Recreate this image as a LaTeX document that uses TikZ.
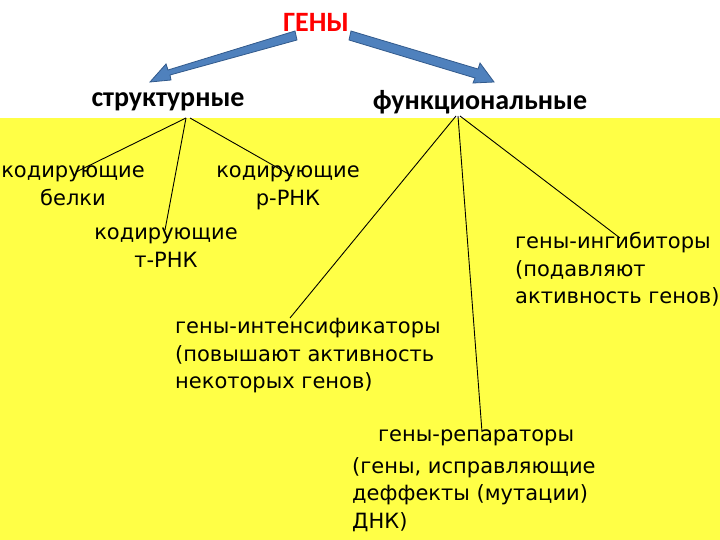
\documentclass[tikz,border=0pt]{standalone}
\usepackage{fontspec}
\setmainfont{Carlito}
\newfontfamily\txtf{DejaVu Sans}
\definecolor{bgy}{RGB}{255,255,70}
\definecolor{arb}{RGB}{79,129,189}
\definecolor{arbd}{RGB}{50,90,140}
\begin{document}
\begin{tikzpicture}[x=1pt,y=-1pt,
  hdr/.style={font=\bfseries\fontsize{28}{32}\selectfont},
  txt/.style={font=\txtf\fontsize{21}{27.5}\selectfont,align=left,anchor=north west,inner sep=0},
  ctxt/.style={font=\txtf\fontsize{21}{27.5}\selectfont,align=center,anchor=north,inner sep=0},
  ln/.style={black,line width=0.9pt},
  bigarrow/.style={draw=arbd,fill=arb,line width=0.8pt}]
\useasboundingbox (0,0) rectangle (720,540);
\fill[white] (0,0) rectangle (720,118);
\fill[bgy] (0,118) rectangle (720,540);
\node[hdr,text=red] (g) at (316,22) {ГЕНЫ};
\node[hdr] (s) at (168,102) {структурные};
\node[hdr] (f) at (480,102) {функциональные};
% big arrows
\draw[bigarrow] (295,31) -- (168,70) -- (166,64) -- (150,82) -- (171,80) -- (170,75) -- (297,40) -- cycle;
\draw[bigarrow] (351,31) -- (478,69) -- (480,63) -- (494,82) -- (473,83) -- (475,78) -- (349,40) -- cycle;
% structural items
\coordinate (sh) at (186,118);
\node[ctxt] (sb) at (73,166) {кодирующие\\белки};
\node[ctxt] (sr) at (288,166) {кодирующие\\р-РНК};
\node[ctxt] (st) at (166,228) {кодирующие\\т-РНК};
\draw[ln] (sh) -- (76,172);
\draw[ln] (sh) -- (165,230);
\draw[ln] (190,118) -- (292,176);
% functional items
\coordinate (fh) at (456,116);
\node[txt] (fi) at (515,232) {гены-ингибиторы\\(подавляют\\активность генов)};
\node[txt] (fe) at (175,318) {гены-интенсификаторы\\(повышают активность\\некоторых генов)};
\node[txt] (fr1) at (378,430) {гены-репараторы};
\node[txt] (fr) at (352,457) {(гены, исправляющие\\деффекты (мутации)\\ДНК)};
\draw[ln] (460,116) -- (620,238);
\draw[ln] (fh) -- (290,318);
\draw[ln] (458,116) -- (482,432);
\end{tikzpicture}
\end{document}
